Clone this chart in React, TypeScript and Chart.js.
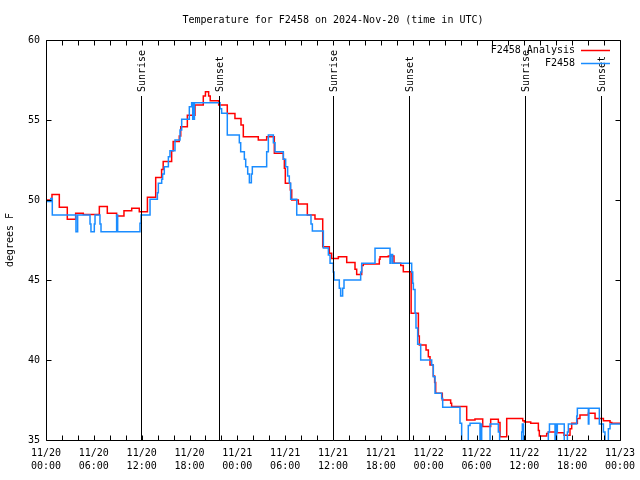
import React, { useEffect, useRef } from "react";
import { Chart, registerables } from "chart.js";

Chart.register(...registerables);

const FONT = '"DejaVu Sans Mono", "Liberation Mono", monospace';

const chartTitle = "Temperature for F2458 on 2024-Nov-20 (time in UTC)";
const yAxisTitle = "degrees F";
const analysisLabel = "F2458 Analysis";
const obsLabel = "F2458";

// x tick labels (every 6 hours from 11/20 00:00 UTC)
const xTickDates = ["11/20", "11/20", "11/20", "11/20", "11/21", "11/21", "11/21", "11/21", "11/22", "11/22", "11/22", "11/22", "11/23"];
const xTickTimes = ["00:00", "06:00", "12:00", "18:00", "00:00", "06:00", "12:00", "18:00", "00:00", "06:00", "12:00", "18:00", "00:00"];

// sunrise / sunset (hours since 11/20 00:00 UTC)
const sunEventHours = [11.92, 21.7, 36.0, 45.53, 60.08, 69.62];
const sunEventLabels = ["Sunrise", "Sunset", "Sunrise", "Sunset", "Sunrise", "Sunset"];

// F2458 analysis (red), hours since start and deg F
const analysisHours = [
  0, 0.75, 1.67, 2.67, 3.72, 4.68, 6.69, 7.69, 8.86, 9.78, 10.75, 11.7,
  12.72, 13.76, 14.5, 14.7, 15.76, 15.95, 16.72, 16.9, 17.73, 18.69, 19.73, 20.0,
  20.4, 20.6, 21.66, 22.74, 23.7, 24.46, 24.75, 26.63, 27.68, 28.64, 29.77, 29.9,
  30.02, 30.65, 30.82, 31.65, 32.78, 33.74, 34.71, 35.54, 35.83, 36.67, 37.72, 38.76,
  38.97, 39.6, 39.8, 41.81, 41.9, 42.94, 43.65, 44.5, 44.82, 45.8, 46.71, 46.83,
  47.67, 47.96, 48.17, 48.58, 48.75, 48.88, 49.71, 50.76, 50.88, 52.77, 53.81, 54.78,
  55.78, 56.74, 56.95, 57.79, 59.8, 60.0, 60.8, 61.76, 61.88, 62.8, 63.01, 63.97,
  64.98, 65.73, 65.94, 66.65, 66.98, 68.03, 68.87, 69.92, 70.75, 70.96, 72
];
const analysisTemps = [
  50.0, 50.35, 49.54, 48.8, 49.17, 49.1, 49.6, 49.17, 49.0, 49.33, 49.48, 49.27,
  50.17, 51.4, 51.9, 52.4, 53.08, 53.65, 54.0, 54.58, 55.3, 55.94, 56.5, 56.77,
  56.5, 56.2, 55.94, 55.4, 55.1, 54.69, 53.96, 53.75, 53.96, 52.92, 52.54, 51.98,
  51.04, 50.63, 50.0, 49.75, 49.06, 48.81, 47.08, 46.67, 46.35, 46.46, 46.1, 45.67,
  45.35, 45.9, 46.0, 46.29, 46.46, 46.5, 46.04, 45.9, 45.52, 42.92, 41.5, 40.94,
  40.63, 40.2, 39.69, 39.0, 38.6, 37.92, 37.5, 37.29, 37.1, 36.25, 36.31, 35.85,
  36.3, 36.1, 35.2, 36.35, 36.2, 36.12, 36.04, 35.6, 35.25, 35.4, 35.5, 35.45,
  35.3, 35.7, 36.04, 36.35, 36.56, 36.67, 36.35, 36.21, 36.1, 36.04, 36.04
];

// F2458 observations (blue)
const obsHours = [
  0, 0.6, 0.79, 3.76, 3.97, 5.52, 5.64, 6.06, 6.15, 6.77, 6.9, 8.86,
  8.99, 11.79, 11.92, 13.05, 13.97, 14.09, 14.51, 14.63, 14.84, 15.35, 15.55, 16.18,
  16.81, 17.02, 17.98, 18.27, 18.4, 18.47, 18.55, 18.62, 21.83, 22.03, 22.74, 24.25,
  24.42, 24.88, 25.05, 25.3, 25.51, 25.76, 25.88, 27.68, 27.89, 28.52, 28.73, 29.77,
  30.06, 30.31, 30.52, 30.69, 31.45, 33.24, 33.41, 34.79, 35.42, 35.63, 36.04, 36.13,
  36.79, 36.96, 37.21, 37.38, 39.47, 39.6, 41.27, 43.15, 43.27, 43.48, 45.87, 46.0,
  46.08, 46.29, 46.41, 46.62, 47.0, 48.38, 48.58, 48.8, 49.63, 49.76, 51.93, 52.14,
  52.97, 53.19, 54.44, 54.57, 54.65, 55.7, 56.74, 56.9, 59.67, 59.75, 59.9, 63.01,
  63.15, 63.85, 63.93, 63.97, 64.05, 64.14, 65.01, 65.4, 65.52, 66.57, 66.65, 68.03,
  68.1, 69.41, 69.92, 70.12, 70.54, 70.75, 72
];
const obsTemps = [
  49.9, 50.1, 49.06, 48.02, 49.06, 48.5, 48.02, 48.5, 49.06, 48.5, 48.02, 49.06,
  48.02, 48.54, 49.06, 50.04, 50.46, 51.04, 51.29, 51.63, 52.08, 52.71, 53.08, 53.75,
  54.38, 55.04, 55.83, 56.08, 55.04, 56.08, 55.04, 56.08, 55.7, 55.42, 54.06, 53.58,
  53.02, 52.54, 52.08, 51.63, 51.08, 51.63, 52.08, 53.02, 54.06, 53.58, 53.02, 52.54,
  52.08, 51.5, 51.04, 50.04, 49.06, 48.5, 48.06, 47.0, 46.56, 46.04, 45.5, 45.0,
  44.48, 44.0, 44.48, 45.0, 45.5, 46.04, 46.98, 46.04, 46.6, 46.04, 45.5, 44.8,
  44.4, 42.92, 42.0, 40.98, 40.0, 39.69, 38.96, 37.92, 37.6, 37.04, 36.04, 34.5,
  35.9, 36.04, 34.5, 36.0, 34.5, 36.0, 35.5, 34.5, 35.5, 36.0, 34.5, 35.5,
  36.0, 34.5, 36.0, 35.0, 35.5, 36.0, 34.5, 35.5, 36.0, 36.5, 36.98, 36.0,
  36.98, 36.0, 35.5, 34.5, 35.7, 36.0, 36.0
];

const toPoints = (xs: number[], ys: number[]) => xs.map((x, i) => ({ x, y: ys[i] }));

const overlayPlugin = {
  id: "gnuplotOverlay",
  afterDatasetsDraw(chart: any) {
    const { ctx, chartArea: a, scales } = chart;
    const xs = scales.x;
    const ys = scales.y;
    ctx.save();
    ctx.strokeStyle = "#000";
    ctx.fillStyle = "#000";
    ctx.lineWidth = 1;
    ctx.font = `10px ${FONT}`;

    // sunrise / sunset markers
    sunEventHours.forEach((h, i) => {
      const x = Math.round(xs.getPixelForValue(h)) + 0.5;
      ctx.beginPath();
      ctx.moveTo(x, a.top + 56);
      ctx.lineTo(x, a.bottom);
      ctx.stroke();
      ctx.save();
      ctx.translate(x + 0.5, a.top + 52);
      ctx.rotate(-Math.PI / 2);
      ctx.textAlign = "left";
      ctx.textBaseline = "middle";
      ctx.fillText(sunEventLabels[i], 0, 0);
      ctx.restore();
    });

    // frame
    const L = Math.round(a.left) + 0.5;
    const R = Math.round(a.right) + 0.5;
    const T = Math.round(a.top) + 0.5;
    const B = Math.round(a.bottom) + 0.5;
    ctx.beginPath();
    ctx.rect(L, T, R - L, B - T);
    ctx.stroke();

    // inward ticks
    ctx.beginPath();
    for (let h = xs.min; h <= xs.max; h += 2) {
      const x = Math.round(xs.getPixelForValue(h)) + 0.5;
      ctx.moveTo(x, B);
      ctx.lineTo(x, B - 5);
      ctx.moveTo(x, T);
      ctx.lineTo(x, T + 5);
    }
    for (let v = ys.min; v <= ys.max; v += 5) {
      const y = Math.round(ys.getPixelForValue(v)) + 0.5;
      ctx.moveTo(L, y);
      ctx.lineTo(L + 5, y);
      ctx.moveTo(R, y);
      ctx.lineTo(R - 5, y);
    }
    ctx.stroke();

    // legend
    const ds = chart.data.datasets;
    const rows = [ds[1], ds[0]];
    rows.forEach((d: any, i: number) => {
      const cy = 50 + i * 13;
      ctx.textAlign = "right";
      ctx.textBaseline = "middle";
      ctx.fillStyle = "#000";
      ctx.fillText(d.label, 575, cy);
      ctx.strokeStyle = d.borderColor;
      ctx.lineWidth = 1.5;
      ctx.beginPath();
      ctx.moveTo(581, cy + 0.5);
      ctx.lineTo(610, cy + 0.5);
      ctx.stroke();
    });

    // title (centred over the plot area)
    ctx.fillStyle = "#000";
    ctx.textAlign = "center";
    ctx.textBaseline = "middle";
    ctx.fillText(chartTitle, (a.left + a.right) / 2, 20);
    ctx.restore();
  },
};

export default function App() {
  const canvasRef = useRef<HTMLCanvasElement | null>(null);

  useEffect(() => {
    const canvas = canvasRef.current;
    if (!canvas) return;
    const chart = new Chart(canvas, {
      type: "line",
      data: {
        datasets: [
          {
            label: obsLabel,
            data: toPoints(obsHours, obsTemps),
            borderColor: "#1a8cff",
            borderWidth: 1.5,
            pointRadius: 0,
            stepped: true,
            fill: false,
            order: 0,
            clip: 0,
          },
          {
            label: analysisLabel,
            data: toPoints(analysisHours, analysisTemps),
            borderColor: "#ff0000",
            borderWidth: 1.5,
            pointRadius: 0,
            stepped: true,
            fill: false,
            order: 1,
            clip: 0,
          },
        ],
      },
      options: {
        responsive: false,
        animation: false,
        devicePixelRatio: 1,
        layout: { padding: { top: 40, right: 20, left: 0, bottom: 0 } },
        plugins: {
          legend: { display: false },
          title: { display: false },
          tooltip: { enabled: false },
        },
        scales: {
          x: {
            type: "linear",
            min: 0,
            max: 72,
            grid: { display: false, drawTicks: false },
            border: { display: false },
            ticks: {
              stepSize: 6,
              autoSkip: false,
              maxRotation: 0,
              padding: 7,
              color: "#000",
              font: { family: FONT, size: 10, lineHeight: 1.3 },
              callback: (value: any) => {
                const i = Math.round(Number(value) / 6);
                return [xTickDates[i], xTickTimes[i]];
              },
            },
            afterFit: (scale: any) => {
              scale.height = 40;
              scale.paddingLeft = 0;
              scale.paddingRight = 0;
            },
          },
          y: {
            type: "linear",
            min: 35,
            max: 60,
            grid: { display: false, drawTicks: false },
            border: { display: false },
            ticks: {
              stepSize: 5,
              padding: 6,
              color: "#000",
              font: { family: FONT, size: 10 },
            },
            title: {
              display: true,
              text: yAxisTitle,
              color: "#000",
              font: { family: FONT, size: 10 },
              padding: { top: 4, bottom: 0 },
            },
            afterFit: (scale: any) => {
              scale.width = 46;
              scale.paddingTop = 0;
              scale.paddingBottom = 0;
            },
          },
        },
      },
      plugins: [overlayPlugin],
    });
    return () => chart.destroy();
  }, []);

  return (
    <div style={{ position: "absolute", left: 0, top: 0, width: 640, height: 480, background: "#fff" }}>
      <canvas ref={canvasRef} width={640} height={480} style={{ display: "block" }} />
    </div>
  );
}
